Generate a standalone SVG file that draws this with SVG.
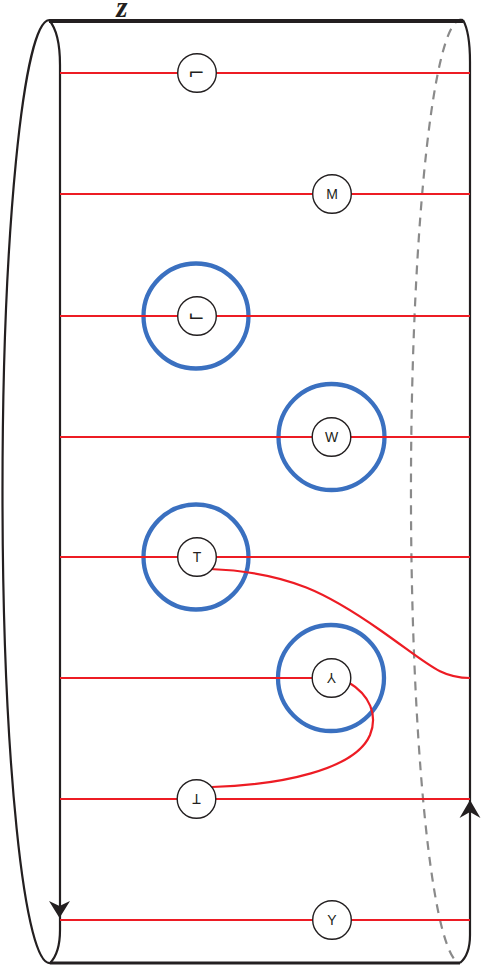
<svg xmlns="http://www.w3.org/2000/svg" width="481" height="965" viewBox="0 0 481 965">
<style>
.edge{fill:none;stroke:#231f20;stroke-width:2.2}
.dash{fill:none;stroke:#8a8a8a;stroke-width:2.2;stroke-dasharray:9 7}
.red{fill:none;stroke:#ed1c24;stroke-width:2.2}
.ring{fill:none;stroke:#3a70c0;stroke-width:4.3}
.node{fill:#fff;stroke:#231f20;stroke-width:1.4}
.lbl{font-family:"Liberation Sans",Arial,sans-serif;font-size:14px;fill:#231f20;text-anchor:middle}
.sym{font-family:"DejaVu Sans",sans-serif;font-size:20px;fill:#231f20;text-anchor:middle}
.arrow{fill:#231f20}
</style>
<rect width="481" height="965" fill="#fff"/>
<g id="frame">
<path class="dash" d="M463,20 A50,471.5 0 0 0 459,963"/>
<path class="edge" d="M49,20 A47,471.5 0 0 0 50,963"/>
<path class="edge" d="M49,20 C56,28 60,42 60,65 L60,930 C60,948 56,957 50,963"/>
<path class="edge" d="M463,20 C467,27 470,40 470,62 L470,935 C470,950 466,958 460,963"/>
<line x1="49" y1="21" x2="463" y2="21" stroke="#231f20" stroke-width="4"/>
<line x1="50" y1="963" x2="460" y2="963" stroke="#231f20" stroke-width="3"/>
<path class="arrow" d="M59.5,918 L49,901 L59.5,906 L70,901 Z"/>
<path class="arrow" d="M470,800 L459.5,818 L470,812 L480.5,818 Z"/>
<text x="122" y="17" font-family="Liberation Serif,serif" font-size="29" font-style="italic" font-weight="bold" fill="#231f20" text-anchor="middle">z</text>
</g>
<g id="rings">
<circle class="ring" cx="196" cy="316" r="52.5"/>
<circle class="ring" cx="331.5" cy="437" r="53"/>
<circle class="ring" cx="196" cy="557" r="52.5"/>
<circle class="ring" cx="331" cy="678" r="53"/>
</g>
<g id="connectors">
<line class="red" x1="60" y1="73" x2="470" y2="73"/>
<line class="red" x1="60" y1="194" x2="470" y2="194"/>
<line class="red" x1="60" y1="316" x2="470" y2="316"/>
<line class="red" x1="60" y1="437" x2="470" y2="437"/>
<line class="red" x1="60" y1="557" x2="470" y2="557"/>
<line class="red" x1="60" y1="678" x2="315" y2="678"/>
<line class="red" x1="60" y1="799" x2="470" y2="799"/>
<line class="red" x1="60" y1="920" x2="470" y2="920"/>
<path class="red" d="M210,569 C290,572 330,595 380,630 C430,665 440,678 470,678"/>
<path class="red" d="M348,682 C370,695 378,715 370,735 C355,770 280,785 212,787"/>
</g>
<g id="n1"><circle class="node" cx="197" cy="73" r="19.3"/><text class="sym" x="196.5" y="80">⌐</text></g>
<g id="n2"><circle class="node" cx="332" cy="194" r="19.3"/><text class="lbl" x="332" y="199">M</text></g>
<g id="n3"><circle class="node" cx="197" cy="316" r="19.3"/><text class="sym" x="196.5" y="322">⌙</text></g>
<g id="n4"><circle class="node" cx="331.5" cy="437" r="19.3"/><text class="lbl" x="331.5" y="442">W</text></g>
<g id="n5"><circle class="node" cx="197" cy="557" r="19.3"/><text class="lbl" x="197" y="562">T</text></g>
<g id="n6"><circle class="node" cx="331.5" cy="678" r="19.3"/><text class="lbl" transform="translate(331.5,678) scale(1,-1)" x="0" y="5">Y</text></g>
<g id="n7"><circle class="node" cx="196.5" cy="799" r="19.3"/><text class="lbl" transform="translate(196.5,799) scale(1,-1)" x="0" y="5">T</text></g>
<g id="n8"><circle class="node" cx="332" cy="920" r="19.3"/><text class="lbl" x="332" y="925">Y</text></g>
</svg>
